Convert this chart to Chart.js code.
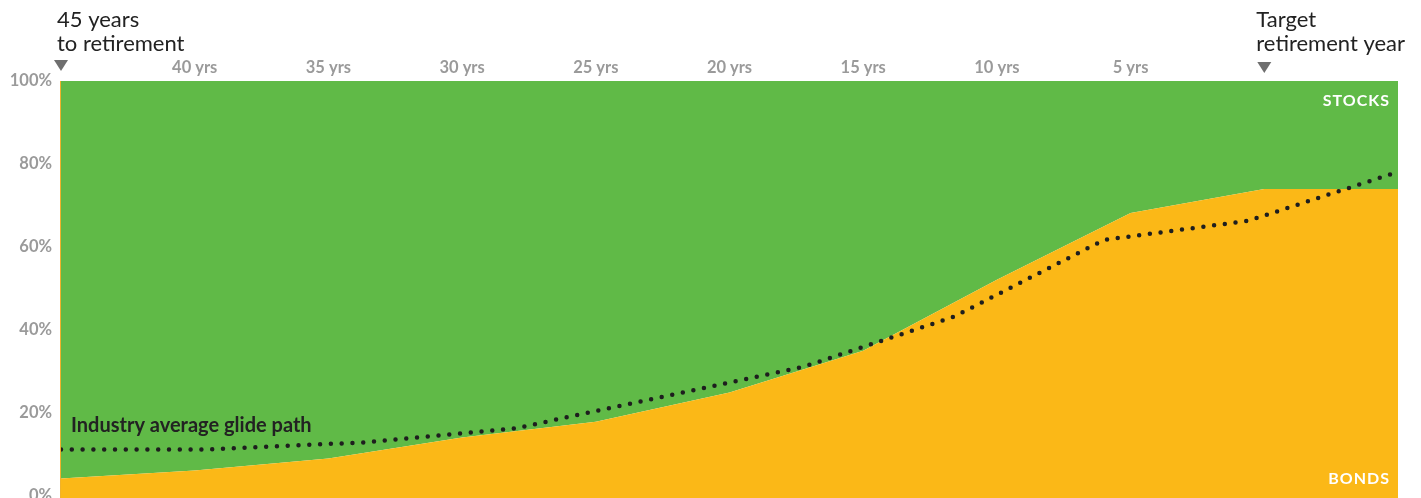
<!DOCTYPE html>
<html>
<head>
<meta charset="utf-8">
<script src="https://cdn.jsdelivr.net/npm/chart.js@4"></script>
<style>
  html, body { margin: 0; padding: 0; background: #fff; }
  #wrap { width: 1421px; height: 498px; }
</style>
</head>
<body>
<div id="wrap"><canvas id="glideChart"></canvas></div>
<script>
// years until retirement (negative = after the target year)
const years = [45, 40, 35, 30, 25, 20, 15, 10, 5, 0, -5];
const bondShare = [4.2, 6.1, 9.0, 14.1, 17.9, 24.9, 35.0, 52.1, 68.2, 74.0, 74.0];
const stockShare = [95.8, 93.9, 91.0, 85.9, 82.1, 75.1, 65.0, 47.9, 31.8, 26.0, 26.0];

// industry average glide path (bond share)
const glideYears = [45, 39.5, 33.7, 28, 17.2, 11.6, 6, 0.6, -5];
const glideShare = [11.2, 11.2, 12.9, 16.3, 31.2, 43.2, 61.7, 66.3, 78.1];

const yearTicks = [40, 35, 30, 25, 20, 15, 10, 5];
const pctTicks = [0, 20, 40, 60, 80, 100];

const FONT = 'Lato, "Source Sans Pro", "Open Sans", sans-serif';
const GREEN = '#60ba47';
const YELLOW = '#fbb817';
const GREY = '#9a9a9a';

const toPoints = (xs, ys) => xs.map((x, i) => ({ x: x, y: ys[i] }));

// labels, arrows and series names drawn on top of the chart
const annotations = {
  id: 'annotations',
  afterDraw(chart) {
    const { ctx, chartArea: area, scales: { x, y } } = chart;
    const startX = x.getPixelForValue(45);
    const targetX = x.getPixelForValue(0);
    ctx.save();

    ctx.fillStyle = '#222';
    ctx.font = '22px ' + FONT;
    ctx.textAlign = 'left';
    ctx.textBaseline = 'alphabetic';
    ctx.fillText('45 years', startX - 4, 27);
    ctx.fillText('to retirement', startX - 4, 51);
    ctx.fillText('Target', targetX - 8, 27);
    ctx.fillText('retirement year', targetX - 8, 51);

    // little down arrows above the two ends
    ctx.fillStyle = '#6f6f6f';
    [[startX, 60], [targetX, 62]].forEach(([px, top]) => {
      ctx.beginPath();
      ctx.moveTo(px - 7, top);
      ctx.lineTo(px + 7, top);
      ctx.lineTo(px, top + 11);
      ctx.closePath();
      ctx.fill();
    });

    ctx.fillStyle = '#222';
    ctx.font = 'bold 20px ' + FONT;
    ctx.fillText('Industry average glide path', startX + 10, y.getPixelForValue(15.3));

    ctx.fillStyle = '#fff';
    ctx.font = 'bold 16px ' + FONT;
    ctx.textAlign = 'right';
    ctx.textBaseline = 'middle';
    ctx.letterSpacing = '1px';
    ctx.fillText('STOCKS', area.right - 8, y.getPixelForValue(95.3));
    ctx.fillText('BONDS', area.right - 8, y.getPixelForValue(4));
    ctx.restore();
  }
};

new Chart(document.getElementById('glideChart'), {
  type: 'line',
  data: {
    datasets: [{
      label: 'Bonds',
      data: toPoints(years, bondShare),
      stack: 'mix',
      fill: 'start',
      backgroundColor: YELLOW,
      borderWidth: 0,
      pointRadius: 0,
      tension: 0,
      order: 1
    }, {
      label: 'Stocks',
      data: toPoints(years, stockShare),
      stack: 'mix',
      fill: '-1',
      backgroundColor: GREEN,
      borderWidth: 0,
      pointRadius: 0,
      tension: 0,
      order: 2
    }, {
      label: 'Industry average glide path',
      data: toPoints(glideYears, glideShare),
      stack: 'glide',
      fill: false,
      borderColor: '#1e1e1e',
      borderWidth: 4.5,
      borderCapStyle: 'round',
      borderDash: [0, 10.8],
      pointRadius: 0,
      tension: 0,
      order: 0
    }]
  },
  options: {
    responsive: true,
    maintainAspectRatio: false,
    animation: false,
    events: [],
    layout: { padding: { top: 0, right: 23, bottom: 0, left: 0 } },
    plugins: {
      legend: { display: false },
      tooltip: { enabled: false }
    },
    scales: {
      x: {
        type: 'linear',
        position: 'top',
        min: -5,
        max: 45,
        reverse: true,
        z: 1,
        afterFit: (scale) => { scale.height = 81; },
        border: { display: false },
        grid: {
          drawTicks: false,
          lineWidth: 1.3,
          color: (c) => {
            const v = c.tick && c.tick.value;
            if (v === 45) return 'rgba(240,170,20,0.9)';
            if (v === -5) return 'rgba(0,0,0,0)';
            return 'rgba(255,255,255,0.4)';
          }
        },
        ticks: {
          stepSize: 5,
          autoSkip: false,
          maxRotation: 0,
          padding: 3,
          color: GREY,
          font: { family: FONT, size: 16.5, weight: 'bold' },
          callback: (v) => yearTicks.includes(v) ? v + ' yrs' : ''
        }
      },
      y: {
        stacked: true,
        // the plot runs a touch below the 0% line
        min: -0.5,
        max: 100,
        afterFit: (scale) => {
          scale.width = 61;
          scale.paddingTop = 0;
          scale.paddingBottom = 0;
        },
        afterBuildTicks: (scale) => { scale.ticks = pctTicks.map(v => ({ value: v })); },
        border: { display: false },
        grid: { display: false, drawTicks: false },
        ticks: {
          padding: 9,
          color: GREY,
          font: { family: FONT, size: 16.5, weight: 'bold' },
          callback: (v) => v + '%'
        }
      }
    }
  },
  plugins: [annotations]
});
</script>
</body>
</html>
